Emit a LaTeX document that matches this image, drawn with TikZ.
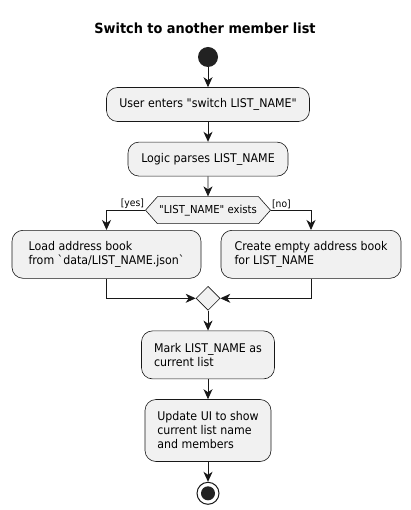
\documentclass[tikz,border=0pt]{standalone}
\usepackage{fontspec}
\setmainfont{DejaVu Sans}[FakeStretch=0.92,Ligatures=TeXOff]
\usetikzlibrary{arrows.meta,positioning,shapes.geometric,shapes.symbols}
\definecolor{ink}{HTML}{181818}
\definecolor{boxfill}{HTML}{F1F1F1}
\definecolor{dot}{HTML}{222222}
\tikzset{act/.style={draw=ink,fill=boxfill,rounded corners=11pt,align=left,font=\fontsize{12}{14}\selectfont,inner xsep=10pt,inner ysep=0pt,minimum height=34pt,line width=0.6pt}, choice/.style={signal,signal to=west and east,signal pointer angle=97,draw=ink,fill=boxfill,font=\fontsize{11}{13}\selectfont,minimum width=125pt,minimum height=27pt,inner sep=0pt,line width=0.6pt}, joint/.style={diamond,draw=ink,fill=boxfill,minimum width=24pt,minimum height=24pt,inner sep=0pt,line width=0.6pt}, flow/.style={-{Stealth[length=10pt,width=9pt,inset=3pt]},draw=ink,line width=0.9pt}, guard/.style={font=\fontsize{10}{12}\selectfont,inner sep=1pt}}

\begin{document}
\begin{tikzpicture}[x=1pt,y=1pt,node distance=20pt]
\fill[white] (0,0) rectangle (411,-510);
\useasboundingbox (0,0) rectangle (411,-510);
\node[font=\bfseries\fontsize{14}{16}\selectfont] (title) at (205,-28) {Switch to another member list};
\node[circle,fill=dot,minimum size=20pt,inner sep=0pt] (start) at (208,-57) {};
\node[act,minimum width=203pt,below=of start] (enter) {User enters "switch LIST\_NAME"};
\node[act,minimum width=160pt,below=of enter] (parse) {Logic parses LIST\_NAME};
\node[choice,below=of parse] (exists) {"LIST\_NAME" exists};
\node[guard,anchor=south east] (yes) at (exists.west) {[yes]};
\node[guard,anchor=south west] (no) at (exists.east) {[no]};
\node[act,minimum width=189pt,minimum height=48pt,anchor=north] (load) at (106.5,-230) {Load address book\\from `data/LIST\_NAME.json`};
\node[act,minimum width=180pt,minimum height=48pt,anchor=north] (create) at (311,-230) {Create empty address book\\for LIST\_NAME};
\node[joint,below=62pt of exists] (join) {};
\node[act,minimum width=133pt,minimum height=48pt,below=of join] (mark) {Mark LIST\_NAME as\\current list};
\node[act,minimum width=126pt,minimum height=62pt,below=of mark] (update) {Update UI to show\\current list name\\and members};
\node[circle,draw=ink,fill=white,line width=1pt,minimum size=22pt,inner sep=0pt,below=of update] (stop) {};
\fill[dot] (stop.center) circle (7);
\draw[flow] (start) -- (enter);
\draw[flow] (enter) -- (parse);
\draw[flow] (parse) -- (exists);
\draw[flow] (exists.west) -| (load.north);
\draw[flow] (exists.east) -| (create.north);
\draw[flow] (load.south) |- (join.west);
\draw[flow] (create.south) |- (join.east);
\draw[flow] (join) -- (mark);
\draw[flow] (mark) -- (update);
\draw[flow] (update) -- (stop);
\end{tikzpicture}
\end{document}
